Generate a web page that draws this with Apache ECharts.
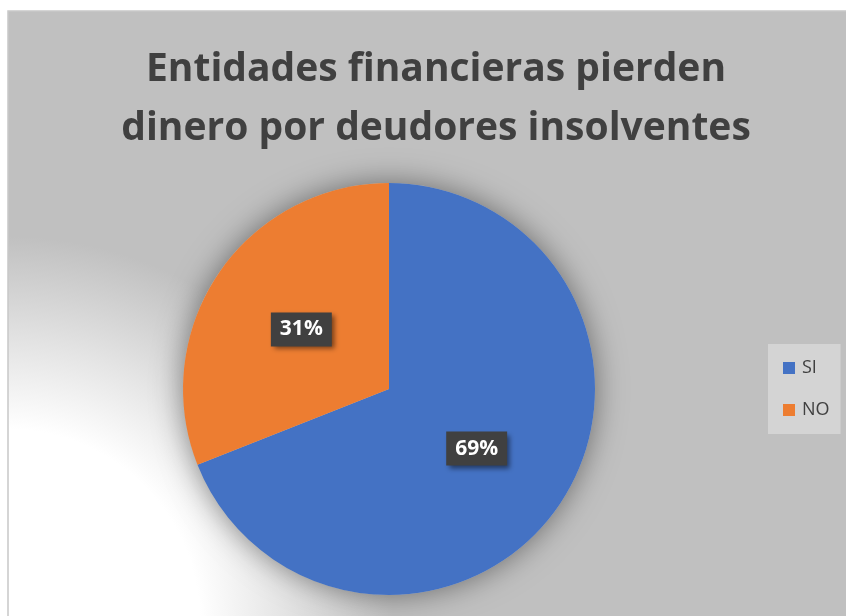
<!DOCTYPE html>
<html>
<head>
<meta charset="utf-8">
<script src="https://cdn.jsdelivr.net/npm/echarts@6/dist/echarts.min.js"></script>
<style>
html,body{margin:0;padding:0;background:#fff;}
#main{width:846px;height:616px;}
</style>
</head>
<body>
<div id="main"></div>
<script>
const titleLines = ['Entidades financieras pierden', 'dinero por deudores insolventes'];
const categories = ['SI', 'NO'];
const values = [69, 31];
const colors = ['#4472C4', '#ED7D31'];

const chart = echarts.init(document.getElementById('main'), null, {renderer: 'canvas'});
const option = {
  backgroundColor: '#ffffff',
  animation: false,
  graphic: [
    {
      type: 'rect', z: -10, silent: true,
      shape: {x: 8, y: 11, width: 846, height: 610},
      style: {
        fill: new echarts.graphic.RadialGradient(0, 1, 0.63, [
          {offset: 0, color: '#ffffff'},
          {offset: 0.5, color: '#ffffff'},
          {offset: 0.72, color: '#e4e4e4'},
          {offset: 1, color: '#c0c0c0'}
        ]),
        stroke: '#c8c8c8', lineWidth: 1.5
      }
    }
  ],
  title: {
    text: titleLines.join('\n'),
    left: 431, top: 35, textAlign: 'center',
    textStyle: {
      fontFamily: 'Open Sans', fontWeight: 'bold', fontSize: 39,
      color: '#404040', lineHeight: 59
    }
  },
  legend: {
    data: categories,
    orient: 'vertical',
    left: 768, top: 344,
    backgroundColor: '#d4d4d4',
    padding: [15, 11, 15, 15],
    itemWidth: 12, itemHeight: 12, itemGap: 24,
    icon: 'rect',
    textStyle: {fontFamily: 'Open Sans', fontSize: 18, color: '#404040', padding: [0, 0, 0, 2]}
  },
  series: [
    {
      type: 'pie', silent: true, z: 1,
      center: [389, 389], radius: 206,
      label: {show: false}, labelLine: {show: false},
      itemStyle: {color: '#c0c0c0', shadowBlur: 30, shadowColor: 'rgba(0,0,0,0.45)'},
      data: [{name: '_shadow', value: 1}]
    },
    {
      type: 'pie', z: 2,
      center: [389, 389], radius: 206,
      startAngle: 90, clockwise: true,
      data: categories.map((c, i) => ({name: c, value: values[i], itemStyle: {color: colors[i]}})),
      label: {
        show: true, position: 'inside',
        formatter: p => p.value + '%',
        color: '#ffffff', fontFamily: 'Open Sans', fontWeight: 'bold', fontSize: 21,
        backgroundColor: '#404040', padding: [7, 9, 6, 9],
        shadowColor: 'rgba(0,0,0,0.5)', shadowBlur: 5, shadowOffsetX: 3, shadowOffsetY: 3
      },
      labelLine: {show: false}
    }
  ]
};
chart.setOption(option);
</script>
</body>
</html>
